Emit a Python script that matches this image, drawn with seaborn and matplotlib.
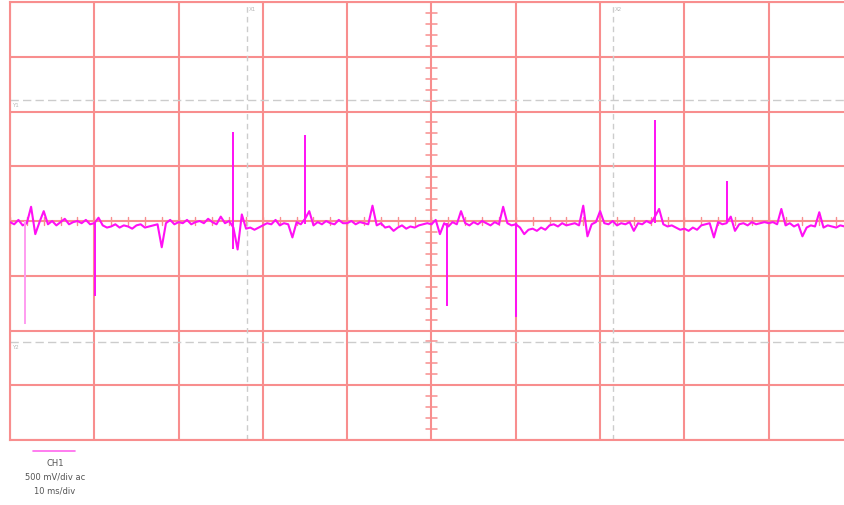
import numpy as np
import pandas as pd
import matplotlib
matplotlib.use("Agg")
import matplotlib.pyplot as plt
import seaborn as sns
from matplotlib.lines import Line2D

# ---- data (time in ms, voltage in mV) ----
time_step_ms = 0.5
baseline_mv = [
    -10, -30, 10, -40, -20, 130, -120, -10, 90, -30, 0, -40, -10, 20, -30, -10, 0, -20, 10, -30,
    -20, 30, -40, -60, -50, -30, -60, -40, -50, -70, -40, -30, -60, -50, -40, -30, -240, -20, 10, -30,
    -10, -20, 10, -30, -10, 0, -20, 20, -10, -30, 40, -20, 0, -60, -260, 60, -70, -60, -80, -60,
    -40, -20, -30, 10, -40, -20, -30, -150, -10, -30, 20, 90, -40, -10, -30, 0, -20, -30, 10, -20,
    -20, 0, -30, -10, -20, -30, 140, -40, -20, -60, -50, -90, -60, -40, -70, -50, -60, -40, -30, -20,
    -30, 10, -120, -20, -50, -10, -30, 90, -20, -40, -10, -30, 0, -20, -40, -10, -30, 130, -20, -40,
    -30, -60, -120, -80, -70, -90, -60, -80, -40, -30, -50, -20, -40, -30, -20, -40, 140, -140, -30, -10,
    90, -20, -30, 0, -40, -20, -30, -10, -90, -20, -30, 0, -20, 40, 110, -30, -50, -40, -60, -80,
    -70, -90, -60, -80, -40, -30, -20, -150, -10, -30, -20, 40, -90, -30, -20, -40, -10, -30, -20, -10,
    -20, -10, -30, 110, -40, -20, -50, -30, -140, -60, -40, -50, 80, -60, -40, -50, -60, -40, -50, -30,
]
spike_t_ms = [1.8, 10.1, 26.45, 35.0, 51.8, 60.0, 76.5, 85.05]
spike_low_mv = [-940, -685, -260, -30, -776, -877, -20, -20]
spike_high_mv = [0, -20, 810, 785, -20, -20, 920, 365]

cursor_x_ms = [28.1, 71.5]
cursor_y_mv = [1105, -1105]

channel = "CH1"
scale_text = "500 mV/div ac"
time_text = "10 ms/div"

# ---- figure ----
W, H = 845, 506
sns.set_style("white")
fig = plt.figure(figsize=(W / 100, H / 100), dpi=100)
ax = fig.add_axes([10 / W, 65 / H, 843 / W, 438 / H])

grid_c = "#f88e8e"
trace_c = "#ff10f4"

t = np.arange(len(baseline_mv)) * time_step_ms
df = pd.DataFrame({"t": t, "v": baseline_mv})

ax.set_xlim(0, 100)
ax.set_ylim(-2000, 2000)
ax.set_xticks(np.arange(0, 101, 10))
ax.set_yticks(np.arange(-2000, 2001, 500))
ax.set_xticklabels([])
ax.set_yticklabels([])
ax.tick_params(length=0)
ax.grid(True, color=grid_c, lw=1.5, zorder=0)
ax.set_axisbelow(True)
for s in ax.spines.values():
    s.set_color(grid_c)
    s.set_linewidth(1.5)

# center axis minor ticks
for yv in np.arange(-2000, 2001, 100):
    ax.plot([49.3, 50.7], [yv, yv], color=grid_c, lw=1.1, zorder=1)
for xv in np.arange(0, 101, 2):
    ax.plot([xv, xv], [-35, 35], color=grid_c, lw=1.0, zorder=1)

# cursors
for cx in cursor_x_ms:
    ax.axvline(cx, color="#cccccc", lw=1.0, ls=(0, (4, 3)), zorder=1)
for cy in cursor_y_mv:
    ax.axhline(cy, color="#cccccc", lw=1.0, ls=(0, (6, 3)), zorder=1)
ax.text(cursor_x_ms[0] + 0.2, 1960, "X1", fontsize=4, color="#b8b8b8", va="top", ha="left")
ax.text(cursor_x_ms[1] + 0.2, 1960, "X2", fontsize=4, color="#b8b8b8", va="top", ha="left")
ax.text(0.3, cursor_y_mv[0] - 20, "Y1", fontsize=4, color="#b8b8b8", va="top", ha="left")
ax.text(0.3, cursor_y_mv[1] - 20, "Y2", fontsize=4, color="#b8b8b8", va="top", ha="left")

# trace
sns.lineplot(data=df, x="t", y="v", ax=ax, color=trace_c, lw=1.5, zorder=3)
spike_colors = ["#ff9cf0"] + [trace_c] * (len(spike_t_ms) - 1)
ax.vlines(spike_t_ms, spike_low_mv, spike_high_mv, colors=spike_colors, lw=1.4, zorder=3)
ax.set_xlabel("")
ax.set_ylabel("")

# channel legend
fig.add_artist(Line2D([33 / W, 75 / W], [1 - 452 / H, 1 - 452 / H], color="#ff66ee", lw=1.2))
fig.text(55 / W, 1 - 463 / H, channel, fontsize=6, color="#555555", ha="center", va="center")
fig.text(55 / W, 1 - 477 / H, scale_text, fontsize=6, color="#555555", ha="center", va="center")
fig.text(55 / W, 1 - 491 / H, time_text, fontsize=6, color="#555555", ha="center", va="center")

fig.savefig("out.png", dpi=100)
